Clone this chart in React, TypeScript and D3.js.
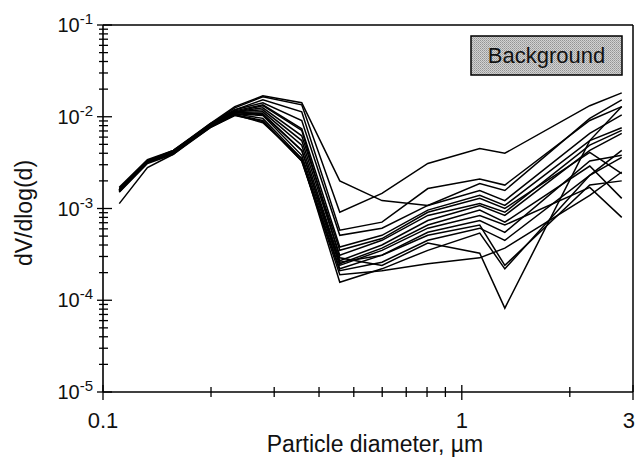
import React from 'react';
import * as d3 from 'd3';

// Particle diameters (µm) of the size channels
const diameters = [0.111, 0.133, 0.157, 0.199, 0.233, 0.279, 0.358, 0.457, 0.599, 0.804, 1.122, 1.318, 2.273, 2.791];

// dV/dlog(d) for each background sample
const run01 = [1.7e-3, 3.4e-3, 4.3e-3, 8.4e-3, 1.29e-2, 1.69e-2, 1.42e-2, 2.0e-3, 1.22e-3, 1.08e-3, 1.87e-3, 1.57e-3, 9.6e-3, 1.53e-2];
const run02 = [1.6e-3, 3.3e-3, 4.2e-3, 8.2e-3, 1.25e-2, 1.65e-2, 1.35e-2, 9.1e-4, 1.46e-3, 3.1e-3, 4.5e-3, 4.0e-3, 1.32e-2, 1.82e-2];
const run03 = [1.65e-3, 3.3e-3, 4.2e-3, 8.4e-3, 1.19e-2, 1.53e-2, 1.13e-2, 5.8e-4, 7.1e-4, 1.65e-3, 2.1e-3, 1.8e-3, 9.1e-3, 1.29e-2];
const run04 = [1.57e-3, 3.25e-3, 4.1e-3, 8.0e-3, 1.19e-2, 1.42e-2, 9.1e-3, 5.1e-4, 6.1e-4, 1.08e-3, 1.57e-3, 1.22e-3, 6.6e-3, 1.05e-2];
const run05 = [1.6e-3, 3.3e-3, 4.3e-3, 8.2e-3, 1.16e-2, 1.35e-2, 7.4e-3, 3.8e-4, 5.1e-4, 9.6e-4, 1.39e-3, 1.08e-3, 5.5e-3, 7.6e-3];
const run06 = [1.57e-3, 3.25e-3, 4.1e-3, 8.0e-3, 1.13e-2, 1.25e-2, 6.2e-3, 3.5e-4, 4.7e-4, 9.1e-4, 1.29e-3, 1.0e-3, 4.1e-3, 2.4e-3];
const run07 = [1.53e-3, 3.2e-3, 4.0e-3, 7.8e-3, 1.13e-2, 1.19e-2, 5.5e-3, 3.1e-4, 4.5e-4, 8.4e-4, 1.13e-3, 9.1e-4, 4.9e-3, 7.1e-3];
const run08 = [1.6e-3, 3.3e-3, 4.2e-3, 8.2e-3, 1.11e-2, 1.13e-2, 4.9e-3, 2.7e-4, 4.0e-4, 7.4e-4, 1.08e-3, 8.4e-4, 4.3e-3, 6.6e-3];
const run09 = [1.57e-3, 3.25e-3, 4.1e-3, 8.0e-3, 1.11e-2, 1.08e-2, 4.3e-3, 2.5e-4, 3.7e-4, 6.6e-4, 9.6e-4, 7.1e-4, 2.9e-3, 1.29e-3];
const run10 = [1.53e-3, 3.2e-3, 4.0e-3, 7.8e-3, 1.08e-2, 1.03e-2, 3.8e-3, 2.4e-4, 3.5e-4, 6.1e-4, 8.4e-4, 6.6e-4, 1.7e-3, 8.0e-4];
const run11 = [1.6e-3, 3.25e-3, 4.1e-3, 8.0e-3, 1.08e-2, 9.6e-3, 3.5e-3, 2.2e-4, 3.1e-4, 5.5e-4, 7.4e-4, 5.5e-4, 3.3e-3, 3.8e-3];
const run12 = [1.57e-3, 3.2e-3, 4.0e-3, 7.6e-3, 1.05e-2, 9.1e-3, 3.3e-3, 2.1e-4, 2.6e-4, 4.5e-4, 6.1e-4, 4.5e-4, 2.3e-3, 3.6e-3];
const run13 = [1.53e-3, 3.2e-3, 4.0e-3, 7.8e-3, 1.05e-2, 8.6e-3, 3.5e-3, 1.57e-4, 2.2e-4, 3.5e-4, 5.4e-4, 2.2e-4, 2.3e-3, 4.3e-3];
const run14 = [1.13e-3, 2.8e-3, 3.9e-3, 8.0e-3, 1.13e-2, 1.32e-2, 7.1e-3, 2.9e-4, 2.4e-4, 4.2e-4, 3.25e-4, 8.2e-5, 5.5e-3, 1.29e-2];
const run15 = [1.5e-3, 3.1e-3, 3.9e-3, 7.6e-3, 1.03e-2, 8.9e-3, 3.3e-3, 1.9e-4, 2.1e-4, 2.5e-4, 2.9e-4, 3.7e-4, 1.39e-3, 2.5e-3];
const run16 = [1.57e-3, 3.25e-3, 4.1e-3, 8.0e-3, 1.11e-2, 1.05e-2, 4.3e-3, 2.6e-4, 3.1e-4, 5.1e-4, 6.6e-4, 2.4e-4, 1.8e-3, 2.0e-3];

const runs = [run01, run02, run03, run04, run05, run06, run07, run08, run09, run10, run11, run12, run13, run14, run15, run16];

const xTickValues = [0.1, 1, 3];
const xTickLabels = ['0.1', '1', '3'];
const yDecades = [-5, -4, -3, -2, -1];
const legendLabel = 'Background';
const xTitle = 'Particle diameter, µm';
const yTitle = 'dV/dlog(d)';

const FONT = '"Liberation Sans", Arial, Helvetica, sans-serif';

export default function App() {
  const W = 636;
  const H = 457;
  const left = 103;
  const right = 633;
  const top = 25;
  const bottom = 392;

  const x = d3.scaleLog().domain([0.1, 3]).range([left, right]);
  const y = d3.scaleLog().domain([1e-5, 1e-1]).range([bottom, top]);

  const line = d3
    .line<number>()
    .x((_, i) => x(diameters[i]))
    .y((v) => y(v));

  const xTicks = x.ticks();
  const yTicks = y.ticks();

  const isDecade = (v: number) => Math.abs(Math.log10(v) - Math.round(Math.log10(v))) < 1e-6;

  return (
    <svg
      width={W}
      height={H}
      style={{ position: 'absolute', left: 0, top: 0, background: '#fff' }}
      fontFamily={FONT}
    >
      <defs>
        <pattern id="stipple" width="2" height="2" patternUnits="userSpaceOnUse">
          <rect width="2" height="2" fill="#d2d2d2" />
          <rect width="1" height="1" fill="#949494" />
          <rect x="1" y="1" width="1" height="1" fill="#aaaaaa" />
        </pattern>
      </defs>
      <rect width={W} height={H} fill="#fff" />

      {/* frame */}
      <line x1={left} x2={right} y1={top} y2={top} stroke="#000" strokeWidth={1.5} />
      <line x1={right} x2={right} y1={top} y2={bottom} stroke="#000" strokeWidth={1.5} />
      <line x1={left} x2={left} y1={top} y2={bottom} stroke="#000" strokeWidth={1.6} />
      <line x1={left} x2={right} y1={bottom} y2={bottom} stroke="#000" strokeWidth={1.6} />

      {/* y ticks */}
      {yTicks.map((t, i) => {
        const major = isDecade(t);
        return (
          <line
            key={'yt' + i}
            x1={left - (major ? 6 : 4)}
            x2={left + (major ? 9 : 5)}
            y1={y(t)}
            y2={y(t)}
            stroke="#000"
            strokeWidth={1.3}
          />
        );
      })}
      {yDecades.map((e) => (
        <text key={'yl' + e} x={93} y={y(Math.pow(10, e)) + 7} textAnchor="end" fontSize={20} fill="#111">
          <tspan>10</tspan>
          <tspan fontSize={15} dy={-8}>{'-' + Math.abs(e)}</tspan>
        </text>
      ))}

      {/* x ticks */}
      {xTicks.map((t, i) => {
        const major = isDecade(t) || t === 3;
        return (
          <line
            key={'xt' + i}
            x1={x(t)}
            x2={x(t)}
            y1={bottom - (major ? 7 : 5)}
            y2={bottom + (major ? 8 : 5)}
            stroke="#000"
            strokeWidth={1.3}
          />
        );
      })}
      {xTickValues.map((t, i) => {
        const last = i === xTickValues.length - 1;
        return (
          <text
            key={'xl' + i}
            x={last ? W - 1 : x(t)}
            y={428}
            textAnchor={last ? 'end' : 'middle'}
            fontSize={22}
            fill="#111"
          >
            {xTickLabels[i]}
          </text>
        );
      })}

      {/* titles */}
      <text x={375} y={452} textAnchor="middle" fontSize={23} fill="#111">
        {xTitle}
      </text>
      <text
        transform={`translate(32, 213) rotate(-90)`}
        textAnchor="middle"
        fontSize={23}
        fill="#111"
      >
        {yTitle}
      </text>

      {/* data lines */}
      <g fill="none" stroke="#000" strokeWidth={1.5} strokeLinejoin="miter">
        {runs.map((r, i) => (
          <path key={'run' + i} d={line(r) || ''} />
        ))}
      </g>

      {/* legend box */}
      <rect x={471} y={36} width={151} height={39} fill="url(#stipple)" stroke="#000" strokeWidth={1.5} />
      <text x={546.5} y={63} textAnchor="middle" fontSize={22} fill="#111">
        {legendLabel}
      </text>
    </svg>
  );
}
